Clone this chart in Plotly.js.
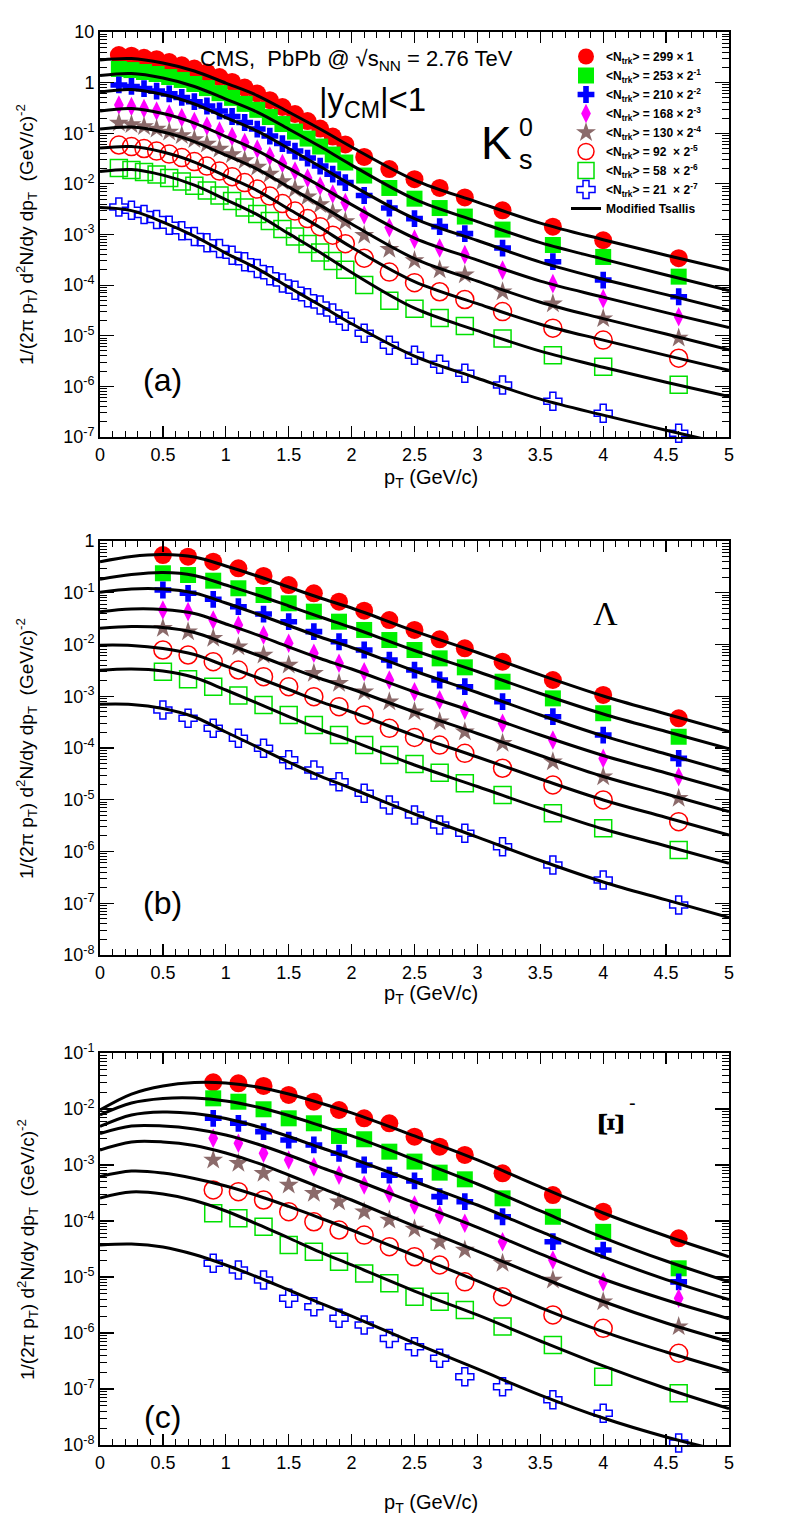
<!DOCTYPE html>
<html><head><meta charset="utf-8">
<script src="https://cdn.plot.ly/plotly-3.0.1.min.js"></script>
<style>html,body{margin:0;padding:0;background:#fff;}#chart{width:790px;height:1536px;}</style>
</head><body><div id="chart"></div>
<script>
// ---------------- Legend labels ----------------
const seriesNames = [
  '&lt;N<sub>trk</sub>&gt; = 299 × 1',
  '&lt;N<sub>trk</sub>&gt; = 253 × 2<sup>-1</sup>',
  '&lt;N<sub>trk</sub>&gt; = 210 × 2<sup>-2</sup>',
  '&lt;N<sub>trk</sub>&gt; = 168 × 2<sup>-3</sup>',
  '&lt;N<sub>trk</sub>&gt; = 130 × 2<sup>-4</sup>',
  '&lt;N<sub>trk</sub>&gt; = 92  × 2<sup>-5</sup>',
  '&lt;N<sub>trk</sub>&gt; = 58  × 2<sup>-6</sup>',
  '&lt;N<sub>trk</sub>&gt; = 21  × 2<sup>-7</sup>'
];
const fitName = 'Modified Tsallis';

// ---------------- Panel (a): K0s ----------------
const ptK = [0.15,0.25,0.35,0.45,0.55,0.65,0.75,0.85,0.95,1.05,1.15,1.25,1.35,1.45,1.55,1.65,1.75,1.85,1.95,2.1,2.3,2.5,2.7,2.9,3.2,3.6,4.0,4.6];
const k1 = [3.5,3.4,3.1,2.9,2.55,2.2,1.9,1.58,1.29,1.03,0.80,0.61,0.45,0.33,0.24,0.174,0.124,0.086,0.060,0.034,0.0196,0.0124,0.0083,0.0054,0.0030,0.00143,7.7e-4,3.4e-4];
const k2 = [1.86,1.77,1.62,1.48,1.29,1.13,0.94,0.78,0.62,0.50,0.38,0.29,0.209,0.152,0.108,0.0785,0.0546,0.0379,0.0264,0.0146,0.0083,0.0051,0.00333,0.00226,0.00125,6.2e-4,3.6e-4,1.47e-4];
const k3 = [0.90,0.84,0.76,0.68,0.60,0.51,0.42,0.345,0.275,0.214,0.163,0.121,0.088,0.0626,0.0445,0.0324,0.0225,0.0156,0.0106,0.0059,0.00333,0.00206,0.00143,0.00104,5.4e-4,2.9e-4,1.26e-4,5.9e-5];
const k4 = [0.361,0.337,0.308,0.275,0.240,0.204,0.170,0.139,0.110,0.086,0.0655,0.0488,0.0354,0.0252,0.0179,0.0130,0.0091,0.0063,0.00427,0.00242,0.00137,8.1e-4,5.4e-4,4.0e-4,1.98e-4,1.07e-4,5.4e-5,2.38e-5];
const k5 = [0.159,0.149,0.136,0.121,0.106,0.090,0.075,0.0612,0.0488,0.0379,0.0289,0.0215,0.0156,0.0111,0.0079,0.0056,0.0039,0.00272,0.0018,9.7e-4,5.1e-4,3.05e-4,2.02e-4,1.61e-4,7.4e-5,4.3e-5,2.18e-5,9.0e-6];
const k6 = [0.0585,0.0546,0.0499,0.0445,0.0388,0.0331,0.0276,0.0225,0.0179,0.0139,0.0106,0.0079,0.00574,0.00408,0.0029,0.00206,0.00143,9.7e-4,6.6e-4,3.4e-4,1.81e-4,1.12e-4,7.4e-5,5.2e-5,3.0e-5,1.41e-5,8.2e-6,3.6e-6];
const k7 = [0.0205,0.0187,0.0171,0.0153,0.0130,0.0111,0.0092,0.0074,0.0059,0.00457,0.0034,0.00253,0.00184,0.00128,9.1e-4,6.5e-4,4.4e-4,2.98e-4,2.02e-4,1.0e-4,4.9e-5,3.4e-5,2.23e-5,1.55e-5,8.8e-6,4.1e-6,2.45e-6,1.08e-6];
const k8 = [0.00348,0.00303,0.00247,0.00197,0.00153,0.00119,9.1e-4,6.9e-4,5.3e-4,3.9e-4,2.91e-4,2.12e-4,1.54e-4,1.1e-4,7.96e-5,5.66e-5,4.03e-5,2.8e-5,1.94e-5,1.12e-5,6.5e-6,4.1e-6,2.75e-6,1.82e-6,1.06e-6,5.1e-7,2.96e-7,1.19e-7];

const ptFit = [0,0.25,0.5,0.75,1,1.25,1.5,1.75,2,2.5,3,3.5,4,4.5,5];
const kf1 = [2.80,2.99,2.44,1.70,0.98,0.556,0.262,0.121,0.0534,0.0119,0.00437,0.00168,7.9e-4,3.9e-4,1.98e-4];
const kf2 = [1.38,1.51,1.23,0.84,0.474,0.262,0.121,0.0546,0.0235,0.0050,0.0018,6.9e-4,3.27e-4,1.58e-4,7.8e-5];
const kf3 = [0.652,0.731,0.582,0.378,0.204,0.110,0.0499,0.0220,0.00946,0.00206,7.6e-4,2.85e-4,1.31e-4,6.5e-5,3.2e-5];
const kf4 = [0.275,0.308,0.245,0.159,0.086,0.0455,0.0205,0.0091,0.0039,8.5e-4,3.12e-4,1.2e-4,5.8e-5,2.86e-5,1.45e-5];
const kf5 = [0.121,0.133,0.106,0.0686,0.0371,0.0196,0.00865,0.00381,0.00161,3.34e-4,1.2e-4,4.6e-5,2.18e-5,1.08e-5,5.3e-6];
const kf6 = [0.051,0.0546,0.0425,0.027,0.01426,0.00738,0.00318,0.00137,5.6e-4,1.17e-4,4.3e-5,1.69e-5,8.2e-6,4.1e-6,2.09e-6];
const kf7 = [0.0175,0.0192,0.0149,0.00946,0.0049,0.00247,0.00104,4.4e-4,1.77e-4,3.5e-5,1.26e-5,4.97e-6,2.39e-6,1.21e-6,6.3e-7];
const kf8 = [0.0034,0.00296,0.00176,9.3e-4,4.3e-4,2.12e-4,9.1e-5,4.0e-5,1.73e-5,3.95e-6,1.45e-6,5.6e-7,2.7e-7,1.36e-7,7.0e-8];

// ---------------- Panel (b): Lambda ----------------
const ptL = [0.5,0.7,0.9,1.1,1.3,1.5,1.7,1.9,2.1,2.3,2.5,2.7,2.9,3.2,3.6,4.0,4.6];
const l1 = [0.536,0.497,0.398,0.297,0.211,0.141,0.0976,0.0671,0.045,0.0297,0.0191,0.0126,0.00845,0.00465,0.00206,0.00106,3.75e-4];
const l2 = [0.238,0.220,0.171,0.122,0.0905,0.0625,0.0431,0.0276,0.0191,0.0122,0.00783,0.0054,0.00362,0.00191,9.1e-4,4.7e-4,1.65e-4];
const l3 = [0.113,0.0976,0.0747,0.0537,0.0388,0.0276,0.0177,0.0113,0.00783,0.00501,0.00321,0.00206,0.00153,7.85e-4,4.03e-4,1.78e-4,6.3e-5];
const l4 = [0.0464,0.0431,0.0297,0.0238,0.0153,0.01054,0.00676,0.00433,0.00298,0.00206,0.00122,8.5e-4,5.4e-4,3.0e-4,1.43e-4,6.3e-5,2.79e-5];
const l5 = [0.0206,0.0177,0.0132,0.00906,0.00627,0.00402,0.00277,0.00178,0.00122,7.85e-4,5.0e-4,3.22e-4,2.07e-4,1.23e-4,5.4e-5,2.79e-5,1.07e-5];
const l6 = [0.00783,0.00627,0.00465,0.00321,0.00239,0.00153,9.8e-4,6.3e-4,4.34e-4,2.4e-4,1.6e-4,1.14e-4,7.9e-5,4.06e-5,1.93e-5,9.9e-6,3.77e-6];
const l7 = [0.00298,0.00213,0.00153,0.00103,6.8e-4,4.34e-4,2.78e-4,1.78e-4,1.14e-4,7.3e-5,4.9e-5,3.33e-5,2.08e-5,1.24e-5,5.5e-6,2.8e-6,1.07e-6];
const l8 = [5.4e-4,3.75e-4,2.4e-4,1.54e-4,9.9e-5,5.9e-5,3.76e-5,2.23e-5,1.33e-5,7.9e-6,5.1e-6,3.25e-6,2.25e-6,1.24e-6,5.5e-7,2.81e-7,9.2e-8];

const lf1 = [0.398,0.502,0.548,0.491,0.329,0.211,0.129,0.0792,0.0507,0.0182,0.0070,0.00258,0.00101,4.54e-4,2.07e-4];
const lf2 = [0.183,0.225,0.246,0.216,0.141,0.0905,0.0555,0.034,0.0213,0.00766,0.00301,0.00113,4.54e-4,2.08e-4,9.7e-5];
const lf3 = [0.1025,0.118,0.118,0.0989,0.0634,0.0388,0.0233,0.01396,0.00875,0.00308,0.00118,4.34e-4,1.71e-4,7.65e-5,3.48e-5];
const lf4 = [0.043,0.0485,0.0475,0.0397,0.0249,0.0153,0.00895,0.00536,0.00336,0.00121,4.75e-4,1.78e-4,7.16e-5,3.29e-5,1.5e-5];
const lf5 = [0.0207,0.0223,0.0213,0.0171,0.01045,0.00627,0.00367,0.0022,0.00138,4.96e-4,1.91e-4,7.16e-5,2.81e-5,1.29e-5,5.9e-6];
const lf6 = [0.00969,0.00957,0.00837,0.00641,0.00384,0.0023,0.00135,7.9e-4,4.96e-4,1.74e-4,6.7e-5,2.52e-5,9.9e-6,4.54e-6,2.07e-6];
const lf7 = [0.00319,0.00336,0.00308,0.0023,0.00132,7.4e-4,4.06e-4,2.28e-4,1.37e-4,4.69e-5,1.8e-5,6.8e-6,2.72e-6,1.28e-6,5.9e-7];
const lf8 = [7.0e-4,6.93e-4,5.8e-4,3.97e-4,2.04e-4,1.045e-4,5.36e-5,2.87e-5,1.65e-5,5.3e-6,1.9e-6,6.7e-7,2.58e-7,1.16e-7,5.3e-8];

// ---------------- Panel (c): Xi- ----------------
const ptX = [0.9,1.1,1.3,1.5,1.7,1.9,2.1,2.3,2.5,2.7,2.9,3.2,3.6,4.0,4.6];
const x1 = [0.030,0.0288,0.0258,0.0178,0.0135,0.0096,0.00682,0.00556,0.0032,0.00212,0.00151,7.1e-4,2.91e-4,1.47e-4,4.9e-5];
const x2 = [0.0155,0.0135,0.00988,0.00682,0.00556,0.0033,0.00288,0.00173,0.00115,7.3e-4,5.55e-4,2.54e-4,1.19e-4,6.4e-5,1.43e-5];
const x3 = [0.00682,0.00556,0.00394,0.00279,0.00228,0.00162,0.001,6.6e-4,5.2e-4,2.72e-4,2.21e-4,1.19e-4,4.27e-5,3.03e-5,8.2e-6];
const x4 = [0.003,0.00244,0.00162,0.00123,9.3e-4,6.6e-4,4.4e-4,3.12e-4,1.93e-4,1.28e-4,9.1e-5,4.27e-5,2.01e-5,8.2e-6,4.17e-6];
const x5 = [0.00123,0.00107,7.1e-4,4.4e-4,3.12e-4,2.21e-4,1.47e-4,1.04e-4,7.2e-5,4.27e-5,3.03e-5,1.76e-5,8.8e-6,3.62e-6,1.3e-6];
const x6 = [3.58e-4,3.34e-4,2.37e-4,1.47e-4,9.7e-5,6.9e-5,5.6e-5,3.48e-5,2.3e-5,1.64e-5,8.2e-6,4.45e-6,2.1e-6,1.21e-6,4.33e-7];
const x7 = [1.37e-4,1.12e-4,7.9e-5,3.73e-5,2.83e-5,1.88e-5,1.16e-5,7.7e-6,4.45e-6,3.62e-6,2.58e-6,1.3e-6,6.1e-7,1.66e-7,8.4e-8];
const x8 = [1.76e-5,1.33e-5,8.8e-6,4.17e-6,2.95e-6,1.83e-6,1.39e-6,8.0e-7,5.7e-7,3.53e-7,1.66e-7,1.1e-7,6.4e-8,3.68e-8,1.09e-8];

const xf1 = [0.0096,0.0185,0.0258,0.0297,0.0291,0.0247,0.0185,0.0128,0.0085,0.0033,0.00123,4.05e-4,1.39e-4,5.4e-5,2.3e-5];
const xf2 = [0.00782,0.0128,0.0154,0.0157,0.0139,0.01086,0.00766,0.00507,0.0033,0.00125,4.58e-4,1.51e-4,5.07e-5,1.93e-5,8.2e-6];
const xf3 = [0.00487,0.00782,0.00884,0.00831,0.00677,0.00487,0.00323,0.00205,0.00131,5.07e-4,1.93e-4,6.5e-5,2.28e-5,9.0e-6,3.94e-6];
const xf4 = [0.00365,0.00497,0.00497,0.0044,0.00344,0.00237,0.00151,9.2e-4,5.74e-4,2.1e-4,7.66e-5,2.58e-5,9.2e-6,3.88e-6,1.8e-6];
const xf5 = [0.00185,0.00258,0.00258,0.00223,0.00164,0.00109,6.63e-4,3.96e-4,2.37e-4,8.1e-5,2.91e-5,1.0e-5,3.65e-6,1.51e-6,7.0e-7];
const xf6 = [6.24e-4,7.8e-4,7.2e-4,5.74e-4,4.22e-4,2.85e-4,1.82e-4,1.13e-4,6.9e-5,2.42e-5,8.5e-6,2.85e-6,1.06e-6,4.58e-7,2.12e-7];
const xf7 = [2.58e-4,3.3e-4,3.03e-4,2.32e-4,1.51e-4,8.8e-5,4.97e-5,2.79e-5,1.64e-5,5.6e-6,2.1e-6,7.2e-7,2.58e-7,1.02e-7,4.45e-8];
const xf8 = [3.73e-5,3.88e-5,3.43e-5,2.52e-5,1.64e-5,1.0e-5,5.86e-6,3.43e-6,2.01e-6,6.6e-7,2.28e-7,7.8e-8,3.03e-8,1.39e-8,7.3e-9];

// ---------------- Styles ----------------
const FONT = 'Liberation Sans, Arial, Helvetica, sans-serif';
const SERIF = 'Liberation Serif, Times New Roman, serif';
const styles = [
  {symbol:'circle',       color:'#ff0000', size:18, lw:0},
  {symbol:'square',       color:'#00f000', size:16, lw:0},
  {symbol:'cross',        color:'#0000ff', size:14, lw:0},
  {symbol:'diamond-tall', color:'#ff00ff', size:14, lw:0},
  {symbol:'star',         color:'#8b6a6a', size:15, lw:0},
  {symbol:'circle-open',  color:'#ff0000', size:18, lw:1.5},
  {symbol:'square-open',  color:'#00e000', size:17, lw:1.5},
  {symbol:'cross-open',   color:'#0000ff', size:15, lw:1.5}
];

const traces = [];
function addPanel(xa, ya, pt, series, fits, showLeg) {
  series.forEach((ys, i) => {
    const s = styles[i];
    traces.push({
      type:'scatter', mode:'markers', x:pt, y:ys, xaxis:xa, yaxis:ya,
      name:seriesNames[i], showlegend:showLeg, cliponaxis:false,
      marker:{symbol:s.symbol, size:s.size, color:s.color,
              line:{color:s.color, width:s.lw}}
    });
  });
  fits.forEach((ys, i) => {
    traces.push({
      type:'scatter', mode:'lines', x:ptFit, y:ys, xaxis:xa, yaxis:ya,
      name:fitName, showlegend:showLeg && i === 0,
      line:{color:'#000', width:3, shape:'spline', smoothing:1}
    });
  });
}
addPanel('x','y',  ptK, [k1,k2,k3,k4,k5,k6,k7,k8], [kf1,kf2,kf3,kf4,kf5,kf6,kf7,kf8], true);
addPanel('x2','y2',ptL, [l1,l2,l3,l4,l5,l6,l7,l8], [lf1,lf2,lf3,lf4,lf5,lf6,lf7,lf8], false);
addPanel('x3','y3',ptX, [x1,x2,x3,x4,x5,x6,x7,x8], [xf1,xf2,xf3,xf4,xf5,xf6,xf7,xf8], false);

// ---------------- Axes ----------------
const W = 790, H = 1536;
const xDom = [100/W, 729/W];
function py(p){ return 1 - p/H; }

const xTickVals = [0,0.5,1,1.5,2,2.5,3,3.5,4,4.5,5];
const xTickText = ['0','0.5','1','1.5','2','2.5','3','3.5','4','4.5','5'];
const xTitle = 'p<sub>T</sub> (GeV/c)';
const yTitle = '1/(2π p<sub>T</sub>) d<sup>2</sup>N/dy dp<sub>T</sub>  (GeV/c)<sup>-2</sup>';

function xAxis(anchor) {
  return {
    domain:xDom, anchor:anchor, range:[0,5],
    tickmode:'array', tickvals:xTickVals, ticktext:xTickText,
    ticks:'inside', ticklen:11, tickwidth:1.2, tickcolor:'#000',
    mirror:'allticks', showline:true, linecolor:'#000', linewidth:2,
    showgrid:false, zeroline:false,
    minor:{tickmode:'linear', tick0:0, dtick:0.1, ticks:'inside', ticklen:6, tickwidth:1, tickcolor:'#000', showgrid:false},
    tickfont:{family:FONT, size:18, color:'#000'}
  };
}
function yAxis(anchor, lo, hi, dom) {
  const vals = [], txt = [], minor = [];
  for (let e = lo; e <= hi; e++) {
    vals.push(Math.pow(10, e));
    txt.push(e === 0 ? '1' : (e === 1 ? '10' : '10<sup>' + e + '</sup>'));
    if (e < hi) for (let d = 2; d <= 9; d++) minor.push(d * Math.pow(10, e));
  }
  return {
    domain:dom, anchor:anchor, type:'log', range:[lo, hi],
    tickmode:'array', tickvals:vals, ticktext:txt,
    ticks:'inside', ticklen:14, tickwidth:1.2, tickcolor:'#000',
    mirror:'allticks', showline:true, linecolor:'#000', linewidth:2,
    showgrid:false, zeroline:false,
    minor:{tickmode:'array', tickvals:minor, ticks:'inside', ticklen:7, tickwidth:1, tickcolor:'#000', showgrid:false},
    tickfont:{family:FONT, size:18, color:'#000'}
  };
}

function ann(text, px, pyy, size, extra) {
  return Object.assign({
    text:text, xref:'paper', yref:'paper', x:px/W, y:py(pyy),
    xanchor:'center', yanchor:'middle', showarrow:false,
    font:{family:FONT, size:size, color:'#000'}
  }, extra || {});
}

const annotations = [
  // axis titles
  ann(xTitle, 431, 478, 20),
  ann(xTitle, 431, 994, 20),
  ann(xTitle, 431, 1503, 20),
  ann(yTitle, 27, 235, 19, {textangle:-90}),
  ann(yTitle, 27, 749, 19, {textangle:-90}),
  ann(yTitle, 27, 1250, 19, {textangle:-90}),
  // panel texts
  ann('CMS,  PbPb @ √s<sub>NN</sub> = 2.76 TeV', 356, 60, 22),
  ann('|y<sub>CM</sub>|&lt;1', 372, 102, 33),
  ann('K', 496, 143, 46),
  ann('0', 526, 127, 25),
  ann('s', 526, 160, 27),
  ann('(a)', 162, 380, 32),
  ann('(b)', 162, 903, 32),
  ann('Λ', 605, 613, 34, {font:{family:SERIF, size:34, color:'#000'}}),
  ann('(c)', 162, 1417, 32),
  ann('Ξ', 611, 1124, 36, {textangle:90, font:{family:SERIF, size:36, color:'#000', weight:'bold'}}),
  ann('-', 632, 1103, 20)
];

const layout = {
  width:W, height:H, margin:{l:0, r:0, t:0, b:0},
  paper_bgcolor:'#fff', plot_bgcolor:'#fff',
  font:{family:FONT, color:'#000'},
  showlegend:true,
  legend:{x:566/W, y:py(42), xanchor:'left', yanchor:'top', bgcolor:'rgba(0,0,0,0)', borderwidth:0,
          font:{family:FONT, size:12, color:'#000', weight:'bold'}, itemsizing:'trace', tracegroupgap:0},
  xaxis:xAxis('y'), yaxis:yAxis('x', -7, 1, [py(437), py(32)]),
  xaxis2:xAxis('y2'), yaxis2:yAxis('x2', -8, 0, [py(955), py(541)]),
  xaxis3:xAxis('y3'), yaxis3:yAxis('x3', -8, -1, [py(1445), py(1053)]),
  annotations:annotations
};

Plotly.newPlot('chart', traces, layout, {displayModeBar:false, staticPlot:true});
</script>
</body></html>
